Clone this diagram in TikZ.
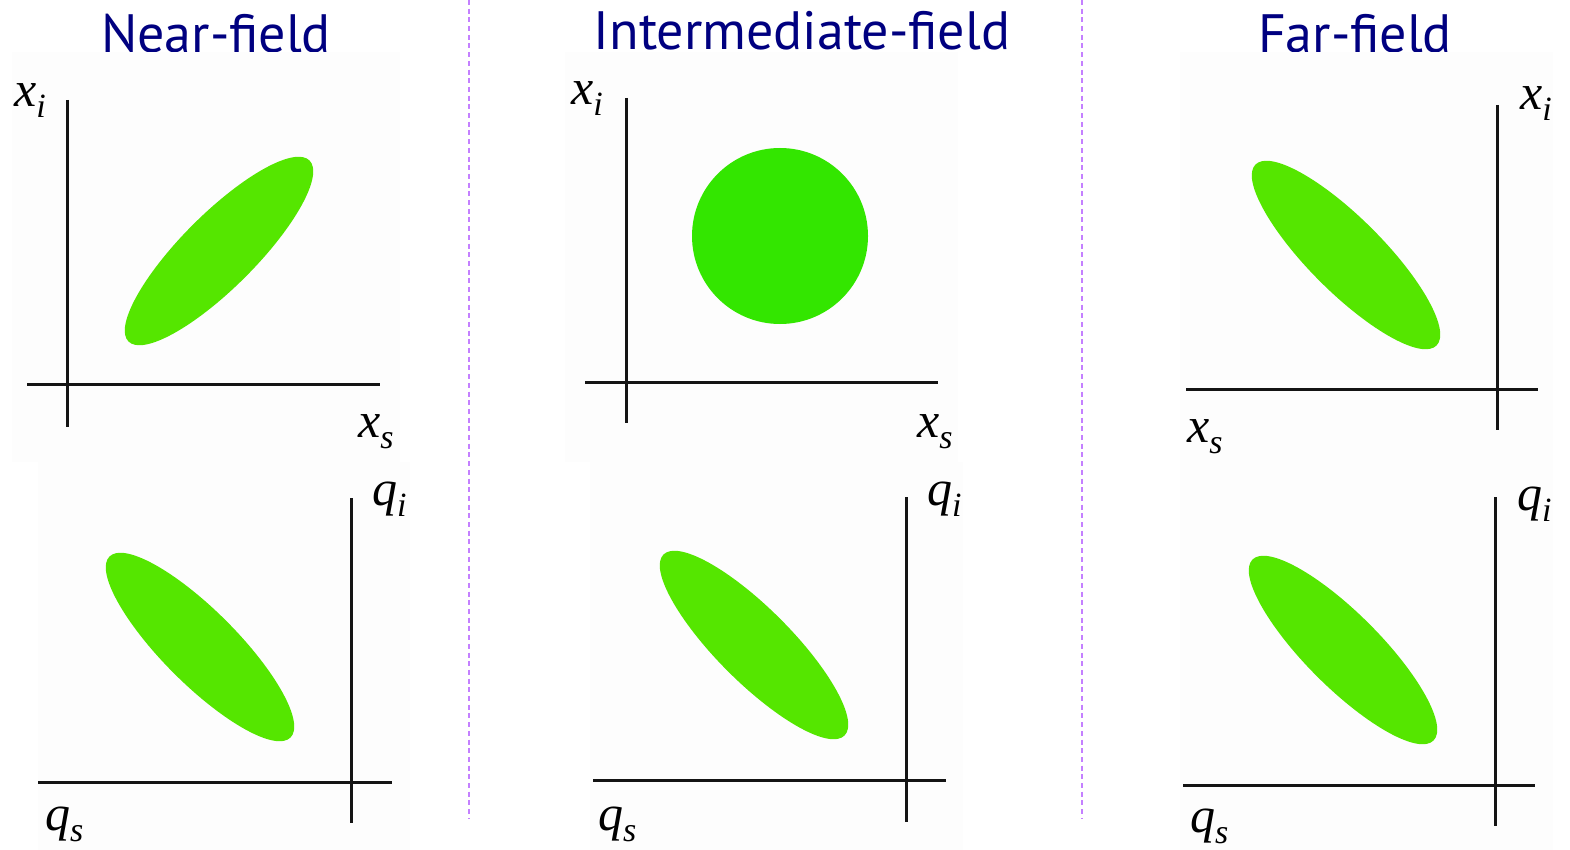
\documentclass[tikz,border=0pt]{standalone}
\usepackage{fontspec}
\setmainfont{Liberation Serif}
\newfontfamily\ttlfont{PT Sans}
\definecolor{navy}{RGB}{0,0,128}
\definecolor{ellgreen}{RGB}{85,230,0}
\definecolor{circgreen}{RGB}{51,230,0}
\definecolor{sepviolet}{RGB}{196,128,255}
\definecolor{panelbg}{RGB}{253,253,253}
\definecolor{axcol}{RGB}{20,20,20}
\newcommand\axlbl[2]{{\rmfamily\itshape #1\raisebox{-0.22em}{\fontsize{34}{34}\selectfont #2}}}
\tikzset{
  ttl/.style={inner sep=0pt, anchor=base, text=navy, font=\ttlfont\fontsize{54}{60}\selectfont},
  lbl/.style={inner sep=0pt, anchor=base west, font=\rmfamily\itshape\fontsize{50}{56}\selectfont},
  axis/.style={draw=axcol, line width=3pt},
  ell/.style={fill=ellgreen},
  sep/.style={draw=sepviolet, line width=2pt, dash pattern=on 5pt off 3.7pt},
  bg/.style={fill=panelbg}
}
\begin{document}
\begin{tikzpicture}[x=1pt,y=-1pt]
\useasboundingbox (0,0) rectangle (1570,850);
\fill[white] (0,0) rectangle (1570,850);
% titles
\node[ttl] (t1) at (216,53) {Near-field};
\node[ttl] (t2) at (802,50) {Intermediate-field};
\node[ttl] (t3) at (1355,53) {Far-field};
% separators
\coordinate (s1a) at (469,0); \coordinate (s1b) at (469,818);
\coordinate (s2a) at (1082,0); \coordinate (s2b) at (1082,818);
\draw[sep] (s1a) -- (s1b);
\draw[sep] (s2a) -- (s2b);
% panel 1
\begin{scope}
\clip (12,52) rectangle (400,462);
\fill[bg] (12,52) rectangle (400,462);
\draw[axis] (67,100) -- (67,427);
\draw[axis] (27,384) -- (380,384);
\fill[ell, rotate around={45:(219,251)}] (219,251) ellipse [x radius=128, y radius=37];
\node[lbl] (l1a) at (14,107) {\axlbl{x}{i}};
\node[lbl] (l1b) at (358,437) {\axlbl{x}{s}};
\end{scope}
% panel 2
\begin{scope}
\clip (38,462) rectangle (410,850);
\fill[bg] (38,462) rectangle (410,850);
\draw[axis] (351,498) -- (351,823);
\draw[axis] (38,782) -- (392,782);
\fill[ell, rotate around={-45:(200,647)}] (200,647) ellipse [x radius=128, y radius=37];
\node[lbl] (l2a) at (372,505) {\axlbl{q}{i}};
\node[lbl] (l2b) at (45,830) {\axlbl{q}{s}};
\end{scope}
% panel 3
\begin{scope}
\clip (565,52) rectangle (958,462);
\fill[bg] (565,52) rectangle (958,462);
\draw[axis] (626,98) -- (626,423);
\draw[axis] (585,382) -- (938,382);
\fill[circgreen] (780,236) circle [radius=88];
\node[lbl] (l3a) at (571,105) {\axlbl{x}{i}};
\node[lbl] (l3b) at (917,437) {\axlbl{x}{s}};
\end{scope}
% panel 4
\begin{scope}
\clip (590,462) rectangle (963,850);
\fill[bg] (590,462) rectangle (963,850);
\draw[axis] (906,497) -- (906,822);
\draw[axis] (593,780) -- (946,780);
\fill[ell, rotate around={-45:(754,645)}] (754,645) ellipse [x radius=128, y radius=37];
\node[lbl] (l4a) at (927,505) {\axlbl{q}{i}};
\node[lbl] (l4b) at (598,830) {\axlbl{q}{s}};
\end{scope}
% panel 5
\begin{scope}
\clip (1180,52) rectangle (1553,462);
\fill[bg] (1180,52) rectangle (1553,462);
\draw[axis] (1497,105) -- (1497,430);
\draw[axis] (1186,389) -- (1538,389);
\fill[ell, rotate around={-45:(1346,255)}] (1346,255) ellipse [x radius=128, y radius=37];
\node[lbl] (l5a) at (1520,110) {\axlbl{x}{i}};
\node[lbl] (l5b) at (1187,442) {\axlbl{x}{s}};
\end{scope}
% panel 6
\begin{scope}
\clip (1180,462) rectangle (1553,850);
\fill[bg] (1180,462) rectangle (1553,850);
\draw[axis] (1495,497) -- (1495,826);
\draw[axis] (1183,785) -- (1535,785);
\fill[ell, rotate around={-45:(1343,650)}] (1343,650) ellipse [x radius=128, y radius=37];
\node[lbl] (l6a) at (1517,510) {\axlbl{q}{i}};
\node[lbl] (l6b) at (1190,832) {\axlbl{q}{s}};
\end{scope}
\end{tikzpicture}
\end{document}
